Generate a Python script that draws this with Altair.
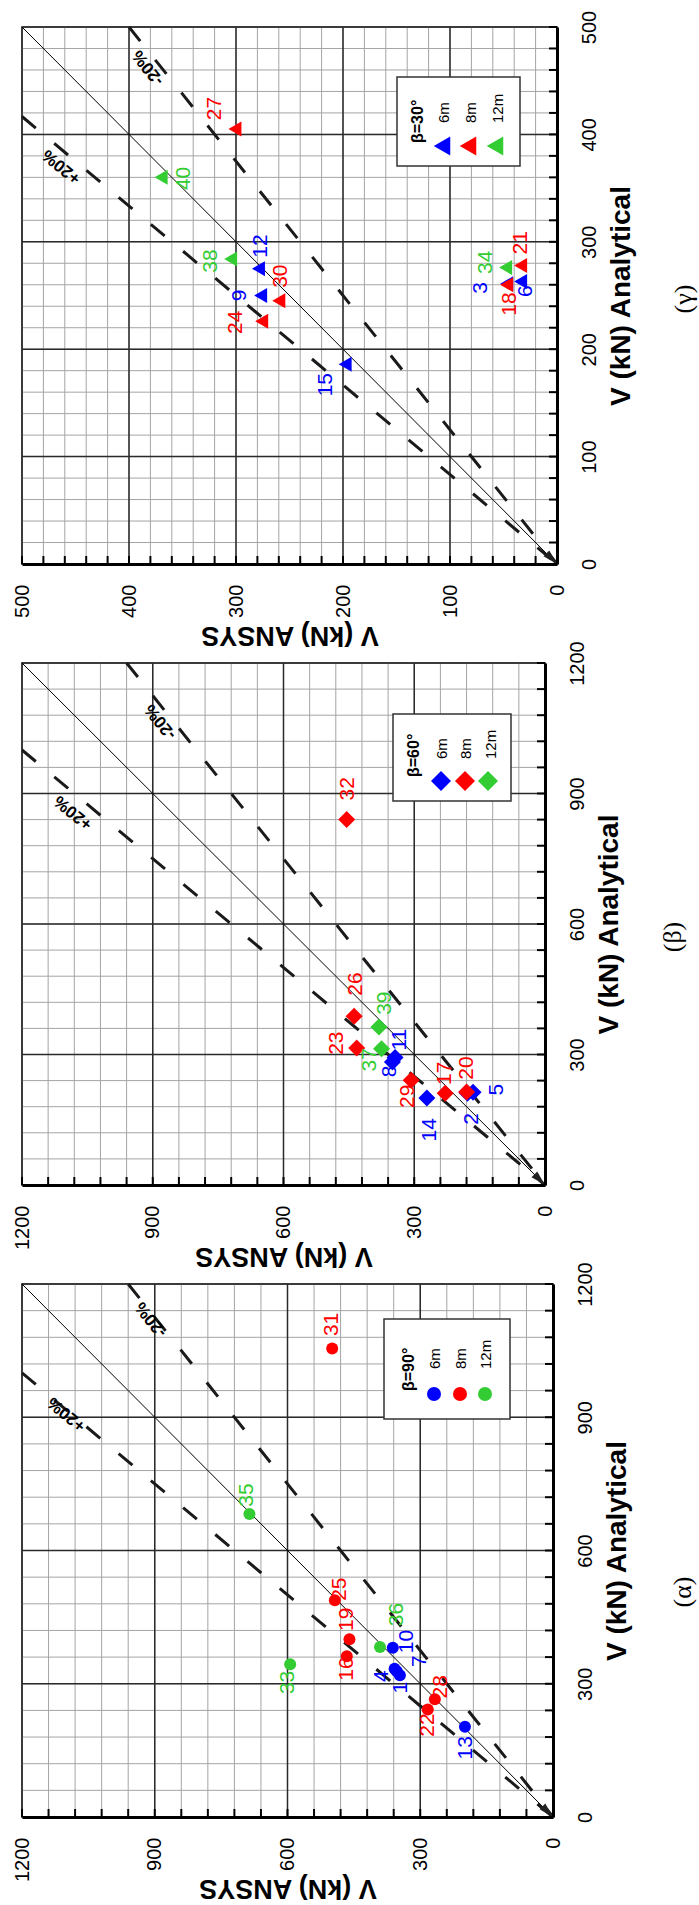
import math
import altair as alt
import pandas as pd

SERIES = ["6m", "8m", "12m"]
COLORS = ["#0000ff", "#ff0000", "#33cc33"]

# ---------------- (γ)  β = 30° ----------------
g_ids = [3, 6, 9, 12, 15, 18, 21, 24, 27, 30, 34, 38, 40]
g_series = ["6m", "6m", "6m", "6m", "6m", "8m", "8m", "8m", "8m", "8m", "12m", "12m", "12m"]
g_ansys = [47, 34, 277, 279, 198, 47, 34, 276, 301, 260, 48, 305, 370]
g_anal = [261, 263, 250, 275, 186, 260, 278, 226, 405, 245, 276, 284, 360]
g_lab_ansys = [71, 29, 296, 277, 216, 44, 34, 300, 320, 258, 66, 323, 349]
g_lab_anal = [257, 254, 250, 296, 167, 242, 299, 225, 424, 268, 281, 282, 359]

# ---------------- (β)  β = 60° ----------------
b_ids = [2, 5, 8, 11, 14, 17, 20, 23, 26, 29, 32, 37, 39]
b_series = ["6m", "6m", "6m", "6m", "6m", "8m", "8m", "8m", "8m", "8m", "8m", "12m", "12m"]
b_ansys = [178, 165, 350, 344, 271, 229, 180, 432, 438, 307, 455, 375, 381]
b_anal = [211, 213, 283, 293, 200, 211, 214, 315, 388, 241, 840, 313, 363]
b_lab_ansys = [168, 111, 356, 333, 264, 229, 180, 478, 434, 314, 452, 401, 367]
b_lab_anal = [152, 219, 261, 334, 127, 257, 269, 326, 462, 204, 911, 288, 418]

# ---------------- (α)  β = 90° ----------------
a_ids = [1, 4, 7, 10, 13, 16, 19, 22, 25, 28, 31, 33, 35, 36]
a_series = ["6m", "6m", "6m", "6m", "6m", "8m", "8m", "8m", "8m", "8m", "8m", "12m", "12m", "12m"]
a_ansys = [346, 353, 358, 362, 199, 466, 460, 283, 493, 267, 499, 594, 686, 391]
a_anal = [319, 328, 334, 381, 203, 362, 400, 242, 488, 265, 1055, 344, 682, 383]
a_lab_ansys = [344, 387, 301, 329, 197, 466, 466, 283, 481, 252, 499, 600, 691, 353]
a_lab_anal = [291, 317, 351, 395, 156, 333, 445, 207, 513, 293, 1109, 303, 725, 456]

# axis ticks
g_major = [0, 100, 200, 300, 400, 500]
g_minor = [0, 20, 40, 60, 80, 100, 120, 140, 160, 180, 200, 220, 240, 260, 280, 300,
           320, 340, 360, 380, 400, 420, 440, 460, 480, 500]
ab_major = [0, 300, 600, 900, 1200]
ab_minor = [0, 60, 120, 180, 240, 300, 360, 420, 480, 540, 600, 660, 720, 780, 840, 900,
            960, 1020, 1080, 1140, 1200]

# reference lines: ANSYS / Analytical ratio
ref_ratios = [1.0, 1.2, 0.8]
pct_text = ["+20%", "-20%"]
g_pct_ansys, g_pct_anal = [463, 382], [370, 462]
b_pct_ansys, b_pct_anal = [1082, 882], [856, 1065]
a_pct_ansys, a_pct_anal = [1099, 908], [907, 1120]

FONT = "Liberation Sans"


def make_panel(ids, series, ansys, anal, lab_x, lab_y, vmax, major, minor, W, H,
               shape, size, leg_size, leg_title, leg, pct_s, pct_a, caption, cap_xy):
    xs = alt.Scale(domain=[0, vmax], reverse=True, nice=False, zero=True)
    ys = alt.Scale(domain=[0, vmax], nice=False, zero=True)
    cs = alt.Scale(domain=SERIES, range=COLORS)

    xaxis = alt.Axis(orient="bottom", values=major, format="d", grid=False, ticks=False,
                     domain=True, domainWidth=3, domainColor="black",
                     labelAngle=270, labelAlign="right", labelBaseline="middle",
                     labelPadding=20, labelFontSize=20, labelFont=FONT, labelColor="black",
                     labelFlush=False, labelOverlap=False, labelBound=False,
                     title="V (kN) ANSYS", titleFont=FONT, titleFontSize=27,
                     titleFontWeight="bold", titleColor="black", titleAngle=180,
                     titleX=W / 2, titleY=56, titleAlign="center", titleBaseline="bottom",
                     zindex=1)
    yaxis = alt.Axis(orient="right", values=major, format="d", grid=False, ticks=False,
                     domain=True, domainWidth=3, domainColor="black",
                     labelAngle=270, labelAlign="center", labelBaseline="top",
                     labelPadding=22, labelFontSize=20, labelFont=FONT, labelColor="black",
                     labelFlush=False, labelOverlap=False, labelBound=False,
                     title="V (kN) Analytical", titleFont=FONT, titleFontSize=28,
                     titleFontWeight="bold", titleColor="black", titleAngle=270,
                     titleX=50, titleY=H / 2, titleAlign="center", titleBaseline="top",
                     zindex=1)

    def X(f):
        return alt.X(f, scale=xs, axis=xaxis)

    def Y(f):
        return alt.Y(f, scale=ys, axis=yaxis)

    minor_df = pd.DataFrame({"v": minor})
    major_df = pd.DataFrame({"v": major})

    gx_minor = alt.Chart(minor_df).mark_rule(color="#a4a4a4", strokeWidth=1).encode(x=X("v:Q"))
    gy_minor = alt.Chart(minor_df).mark_rule(color="#a4a4a4", strokeWidth=1).encode(y=Y("v:Q"))
    gx_major = alt.Chart(major_df).mark_rule(color="#2a2a2a", strokeWidth=1.5).encode(x=X("v:Q"))
    gy_major = alt.Chart(major_df).mark_rule(color="#2a2a2a", strokeWidth=1.5).encode(y=Y("v:Q"))
    tick_x = alt.Chart(minor_df).mark_rule(color="black", strokeWidth=2).encode(
        x=X("v:Q"), y=alt.value(H), y2=alt.value(H - 8))
    tick_y = alt.Chart(minor_df).mark_rule(color="black", strokeWidth=2).encode(
        y=Y("v:Q"), x=alt.value(W), x2=alt.value(W - 8))

    rows = []
    for r in ref_ratios:
        end_a = vmax if r <= 1 else vmax / r
        rows.append({"ratio": r, "s": 0.0, "a": 0.0})
        rows.append({"ratio": r, "s": end_a * r, "a": end_a})
    ldf = pd.DataFrame(rows)
    solid = alt.Chart(ldf[ldf.ratio == 1.0]).mark_line(color="black", strokeWidth=1).encode(
        x=X("s:Q"), y=Y("a:Q"))
    dashed = alt.Chart(ldf[ldf.ratio != 1.0]).mark_line(
        color="#1a1a1a", strokeWidth=3, strokeDash=[18, 24]).encode(
        x=X("s:Q"), y=Y("a:Q"), detail="ratio:N")
    arrow = alt.Chart(pd.DataFrame({"s": [0], "a": [0]})).mark_point(
        shape="M0,0 L-1,-0.27 L-1,0.27 Z", filled=True, color="#222", size=900,
        opacity=1, angle=math.degrees(math.atan2(H, W))).encode(x=X("s:Q"), y=Y("a:Q"))

    pdf = pd.DataFrame({"id": ids, "series": series, "s": ansys, "a": anal,
                        "lx": lab_x, "ly": lab_y})
    pts = alt.Chart(pdf).mark_point(shape=shape, filled=True, size=size, opacity=1).encode(
        x=X("s:Q"), y=Y("a:Q"), color=alt.Color("series:N", scale=cs, legend=None))
    labs = alt.Chart(pdf).mark_text(angle=270, fontSize=21, font=FONT, align="center",
                                    baseline="middle").encode(
        x=X("lx:Q"), y=Y("ly:Q"), text="id:N",
        color=alt.Color("series:N", scale=cs, legend=None))

    ang_p = 180 + math.degrees(math.atan2(H, 1.2 * W))
    ang_m = 180 + math.degrees(math.atan2(H, 0.8 * W))
    pct_df = pd.DataFrame({"txt": pct_text, "s": pct_s, "a": pct_a, "ang": [ang_p, ang_m]})
    pct = alt.Chart(pct_df).mark_text(fontSize=17, fontWeight="bold", font=FONT,
                                      color="black", align="center", baseline="middle").encode(
        x=X("s:Q"), y=Y("a:Q"), text="txt:N", angle=alt.Angle("ang:Q", scale=None))

    one = pd.DataFrame({"k": [0]})
    bx1, by1, bx2, by2 = leg["box"]
    legend_layers = [
        alt.Chart(one).mark_rect(fill="white", stroke="#333", strokeWidth=1.5).encode(
            x=alt.value(bx1), x2=alt.value(bx2), y=alt.value(by1), y2=alt.value(by2)),
        alt.Chart(one).mark_text(angle=270, fontSize=16, fontWeight="bold", font=FONT,
                                 align="left", baseline="middle", color="black").encode(
            x=alt.value(leg["title"][0]), y=alt.value(leg["title"][1]),
            text=alt.value(leg_title)),
    ]
    for i, (sname, col) in enumerate(zip(SERIES, COLORS)):
        legend_layers.append(
            alt.Chart(one).mark_text(angle=270, fontSize=15, font=FONT, align="left",
                                     baseline="middle", color="black").encode(
                x=alt.value(leg["lab_x"][i]), y=alt.value(leg["lab_y"]),
                text=alt.value(sname)))
        legend_layers.append(
            alt.Chart(one).mark_point(shape=shape, filled=True, size=leg_size,
                                      opacity=1, color=col).encode(
                x=alt.value(leg["mk_x"][i]), y=alt.value(leg["mk_y"])))

    cap = alt.Chart(one).mark_text(angle=270, fontSize=26, font="Liberation Serif",
                                   align="center", baseline="middle", color="black").encode(
        x=alt.value(cap_xy[0]), y=alt.value(cap_xy[1]), text=alt.value(caption))

    return alt.layer(gx_minor, gy_minor, gx_major, gy_major, tick_x, tick_y,
                     solid, dashed, arrow, pts, labs, pct, *legend_layers, cap).properties(
        width=W, height=H)


gamma = make_panel(g_ids, g_series, g_ansys, g_anal, g_lab_ansys, g_lab_anal, 500,
                   g_major, g_minor, 535, 537, "triangle-left", 225, 361, "β=30°",
                   {"box": (375, 50, 498, 139), "title": (396, 116),
                    "lab_x": [422, 449, 476], "lab_y": 96,
                    "mk_x": [420, 446, 473], "mk_y": 119},
                   g_pct_ansys, g_pct_anal, "(γ)", (662, 272))
beta = make_panel(b_ids, b_series, b_ansys, b_anal, b_lab_ansys, b_lab_anal, 1200,
                  ab_major, ab_minor, 523, 522, "diamond", 289, 400, "β=60°",
                  {"box": (371, 51, 489, 138), "title": (392, 114),
                   "lab_x": [420, 444, 469], "lab_y": 96,
                   "mk_x": [419, 443, 466], "mk_y": 118},
                  b_pct_ansys, b_pct_anal, "(β)", (651, 274))
alpha = make_panel(a_ids, a_series, a_ansys, a_anal, a_lab_ansys, a_lab_anal, 1200,
                   ab_major, ab_minor, 531, 533, "circle", 144, 196, "β=90°",
                   {"box": (362, 35, 488, 135), "title": (387, 107),
                    "lab_x": [413, 439, 464], "lab_y": 85,
                    "mk_x": [412, 438, 463], "mk_y": 110},
                   a_pct_ansys, a_pct_anal, "(α)", (661, 308))

chart = alt.vconcat(gamma, beta, alpha, spacing=99, bounds="flush").properties(
    padding={"left": 11, "top": 9, "right": 0, "bottom": 0},
    background="white",
).configure_view(stroke="black", strokeWidth=1.5)

chart.save("out.html", embed_options={"renderer": "svg", "actions": False})
